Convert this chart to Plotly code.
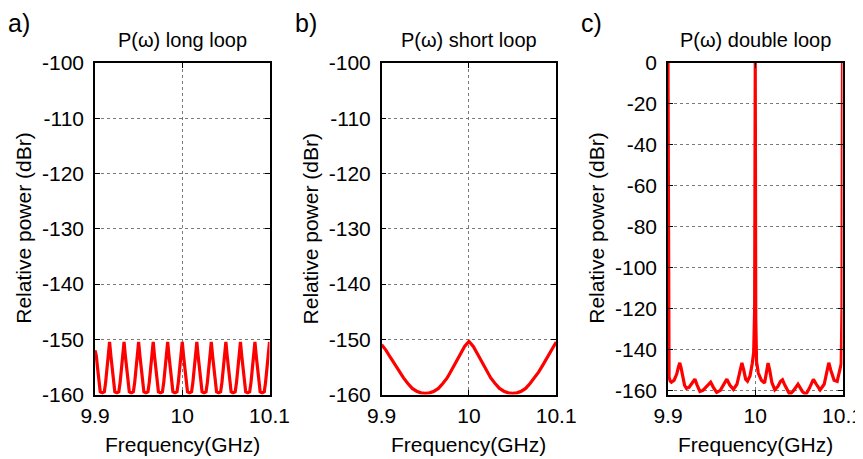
import plotly.graph_objects as go

# ---------------- data ----------------
x_ticks = [9.9, 10.0, 10.1]
x_tick_labels = ["9.9", "10", "10.1"]
ab_y_ticks = [-100, -110, -120, -130, -140, -150, -160]
c_y_ticks = [0, -20, -40, -60, -80, -100, -120, -140, -160]

panel_titles = ["P(\u03c9) long loop", "P(\u03c9) short loop", "P(\u03c9) double loop"]
panel_letters = ["a)", "b)", "c)"]
x_title = "Frequency(GHz)"
y_title = "Relative power (dBr)"

# (a) long loop
a_freq = [
    9.9000, 9.9015, 9.9030, 9.9045, 9.9060, 9.9083, 9.9107, 9.9122, 9.9137, 9.9152,
    9.9167, 9.9182, 9.9197, 9.9212, 9.9227, 9.9250, 9.9273, 9.9288, 9.9303, 9.9318,
    9.9333, 9.9348, 9.9363, 9.9378, 9.9393, 9.9416, 9.9440, 9.9455, 9.9470, 9.9485,
    9.9500, 9.9515, 9.9530, 9.9545, 9.9560, 9.9583, 9.9607, 9.9622, 9.9637, 9.9652,
    9.9667, 9.9682, 9.9697, 9.9712, 9.9727, 9.9750, 9.9773, 9.9788, 9.9803, 9.9818,
    9.9833, 9.9848, 9.9863, 9.9878, 9.9893, 9.9916, 9.9940, 9.9955, 9.9970, 9.9985,
    10.0000, 10.0015, 10.0030, 10.0045, 10.0060, 10.0083, 10.0107, 10.0122, 10.0137, 10.0152,
    10.0167, 10.0182, 10.0197, 10.0212, 10.0227, 10.0250, 10.0273, 10.0288, 10.0303, 10.0318,
    10.0333, 10.0348, 10.0363, 10.0378, 10.0393, 10.0416, 10.0440, 10.0455, 10.0470, 10.0485,
    10.0500, 10.0515, 10.0530, 10.0545, 10.0560, 10.0583, 10.0607, 10.0622, 10.0637, 10.0652,
    10.0667, 10.0682, 10.0697, 10.0712, 10.0727, 10.0750, 10.0773, 10.0788, 10.0803, 10.0818,
    10.0833, 10.0848, 10.0863, 10.0878, 10.0893, 10.0916, 10.0940, 10.0955, 10.0970, 10.0985,
    10.1000,
]
a_power = [
    -152.0, -153.0, -155.3, -157.8, -159.5, -159.7, -159.5, -157.8, -155.3, -153.0,
    -150.5, -153.0, -155.3, -157.8, -159.5, -159.7, -159.5, -157.8, -155.3, -153.0,
    -150.5, -153.0, -155.3, -157.8, -159.5, -159.7, -159.5, -157.8, -155.3, -153.0,
    -150.5, -153.0, -155.3, -157.8, -159.5, -159.7, -159.5, -157.8, -155.3, -153.0,
    -150.5, -153.0, -155.3, -157.8, -159.5, -159.7, -159.5, -157.8, -155.3, -153.0,
    -150.5, -153.0, -155.3, -157.8, -159.5, -159.7, -159.5, -157.8, -155.3, -153.0,
    -150.5, -153.0, -155.3, -157.8, -159.5, -159.7, -159.5, -157.8, -155.3, -153.0,
    -150.5, -153.0, -155.3, -157.8, -159.5, -159.7, -159.5, -157.8, -155.3, -153.0,
    -150.5, -153.0, -155.3, -157.8, -159.5, -159.7, -159.5, -157.8, -155.3, -153.0,
    -150.5, -153.0, -155.3, -157.8, -159.5, -159.7, -159.5, -157.8, -155.3, -153.0,
    -150.5, -153.0, -155.3, -157.8, -159.5, -159.7, -159.5, -157.8, -155.3, -153.0,
    -150.5, -153.0, -155.3, -157.8, -159.5, -159.7, -159.5, -157.8, -155.3, -153.0,
    -150.5,
]

# (b) short loop
b_freq = [
    9.900, 9.905, 9.910, 9.915, 9.920, 9.925, 9.930, 9.935, 9.940, 9.945,
    9.950, 9.955, 9.960, 9.965, 9.970, 9.975, 9.980, 9.985, 9.990, 9.995,
    10.000, 10.005, 10.010, 10.015, 10.020, 10.025, 10.030, 10.035, 10.040, 10.045,
    10.050, 10.055, 10.060, 10.065, 10.070, 10.075, 10.080, 10.085, 10.090, 10.095,
    10.100,
]
b_power = [
    -151.0, -152.0, -153.3, -154.6, -155.9, -157.0, -158.0, -158.9, -159.4, -159.7,
    -159.8, -159.7, -159.4, -158.9, -158.0, -157.0, -155.6, -154.2, -152.7, -151.3,
    -150.4, -151.3, -152.7, -154.2, -155.6, -157.0, -158.0, -158.9, -159.4, -159.7,
    -159.8, -159.7, -159.4, -158.9, -158.0, -157.0, -155.9, -154.6, -153.2, -151.8,
    -150.5,
]

# (c) double loop
c_freq = [
    9.9000, 9.9003, 9.9006, 9.9012, 9.9025, 9.9039, 9.9070, 9.9100, 9.9120, 9.9135,
    9.9150, 9.9170, 9.9190, 9.9212, 9.9240, 9.9275, 9.9308, 9.9335, 9.9366, 9.9400,
    9.9445, 9.9489, 9.9520, 9.9558, 9.9600, 9.9640, 9.9674, 9.9710, 9.9750, 9.9790,
    9.9825, 9.9847, 9.9868, 9.9890, 9.9911, 9.9940, 9.9965, 9.9982, 9.9993, 10.0000,
    10.0006, 10.0015, 10.0035, 10.0070, 10.0107, 10.0130, 10.0147, 10.0165, 10.0190, 10.0224,
    10.0260, 10.0290, 10.0312, 10.0340, 10.0396, 10.0440, 10.0490, 10.0540, 10.0580, 10.0620,
    10.0666, 10.0700, 10.0743, 10.0790, 10.0820, 10.0843, 10.0865, 10.0904, 10.0939, 10.0965,
    10.0985, 10.0994, 10.1000,
]
c_power = [
    0.0, -120.0, -147.0, -153.5, -155.5, -156.0, -155.0, -152.0, -148.5, -146.5,
    -149.0, -154.0, -157.5, -159.0, -158.5, -156.5, -154.5, -157.5, -160.5, -160.0,
    -158.0, -156.0, -158.5, -161.0, -160.0, -157.0, -154.5, -157.5, -159.5, -157.0,
    -150.5, -146.5, -150.0, -154.5, -155.5, -153.0, -147.0, -141.5, -120.0, 0.0,
    -125.0, -146.0, -151.5, -155.0, -156.4, -151.0, -146.6, -150.0, -156.0, -159.7,
    -158.0, -155.5, -154.8, -157.5, -162.0, -160.0, -157.0, -160.5, -162.0, -159.0,
    -154.6, -157.0, -159.8, -157.0, -150.5, -146.5, -150.0, -155.0, -155.6, -151.0,
    -147.0, -120.0, 0.0,
]

# ---------------- layout ----------------
# The page body has an 8px margin, so the figure is 8px smaller and all
# positions below are page pixels shifted by that offset.
OFF = 8
W, H = 863 - OFF, 459 - OFF
FONT = "Liberation Sans, Arial, sans-serif"
plot_left_px = [95 - OFF, 381.7 - OFF, 668 - OFF]
plot_w_px = 174.5
top_px, bot_px = 63 - OFF, 394.5 - OFF


def px_x(p):
    return p / W


def px_y(p):
    return 1 - p / H


fig = go.Figure()
series = [(a_freq, a_power), (b_freq, b_power), (c_freq, c_power)]
for i, (xs, ys) in enumerate(series):
    n = "" if i == 0 else str(i + 1)
    fig.add_trace(go.Scatter(x=xs, y=ys, mode="lines", xaxis="x" + n, yaxis="y" + n,
                             line=dict(color="#ff0000", width=3.2), showlegend=False,
                             hoverinfo="skip"))

axis_common = dict(
    ticks="inside", ticklen=5, tickcolor="black", tickwidth=1,
    showline=True, linecolor="black", linewidth=1.5, mirror="ticks",
    showgrid=True, gridcolor="#7a7a7a", griddash="dot", gridwidth=1,
    zeroline=False, automargin=False,
    tickfont=dict(family=FONT, size=21, color="black"),
)

layout = dict(width=W, height=H, margin=dict(l=0, r=0, t=0, b=0, autoexpand=False),
              paper_bgcolor="white", plot_bgcolor="white", showlegend=False)

annotations = []
for i in range(3):
    n = "" if i == 0 else str(i + 1)
    x0 = px_x(plot_left_px[i])
    x1 = px_x(plot_left_px[i] + plot_w_px)
    layout["xaxis" + n] = dict(domain=[x0, x1], range=[9.9, 10.1], tickvals=x_ticks,
                               ticktext=x_tick_labels, anchor="y" + n,
                               ticklabelstandoff=2, **axis_common)
    if i < 2:
        yr, yt = [-160, -100], ab_y_ticks
    else:
        yr, yt = [-162, 0], c_y_ticks
    layout["yaxis" + n] = dict(domain=[px_y(bot_px), px_y(top_px)], range=yr,
                               tickvals=yt, ticktext=[str(v) for v in yt],
                               anchor="x" + n, ticklabelstandoff=5, **axis_common)
    cx = px_x(plot_left_px[i] + plot_w_px / 2)
    annotations.append(dict(text=panel_titles[i], x=cx, y=px_y(40 - OFF), xref="paper", yref="paper",
                            xanchor="center", yanchor="middle", showarrow=False,
                            font=dict(family=FONT, size=20, color="black")))
    annotations.append(dict(text=x_title, x=cx, y=px_y(444 - OFF), xref="paper", yref="paper",
                            xanchor="center", yanchor="middle", showarrow=False,
                            font=dict(family=FONT, size=21, color="black")))
    annotations.append(dict(text=y_title, x=px_x(plot_left_px[i] - 71),
                            y=px_y((top_px + bot_px) / 2), xref="paper", yref="paper",
                            xanchor="center", yanchor="middle", textangle=-90, showarrow=False,
                            font=dict(family=FONT, size=21, color="black")))
    annotations.append(dict(text=panel_letters[i], x=px_x(plot_left_px[i] - 88), y=1.0,
                            xref="paper", yref="paper", xanchor="left", yanchor="top",
                            showarrow=False, borderpad=0,
                            font=dict(family=FONT, size=25, color="black")))

layout["annotations"] = annotations
fig.update_layout(**layout)
fig.write_html("out.html")
